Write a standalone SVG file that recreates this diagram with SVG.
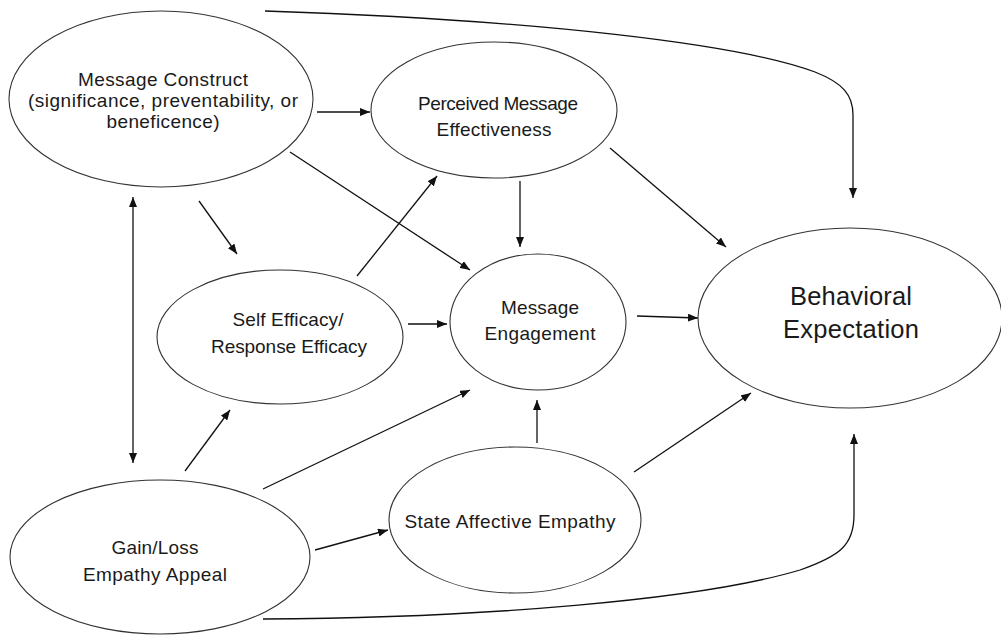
<svg xmlns="http://www.w3.org/2000/svg" width="1001" height="635" viewBox="0 0 1001 635">
  <style>
    .node ellipse { fill: #ffffff; stroke: #333333; stroke-width: 1.1; }
    .node text { font-family: "Liberation Sans", Arial, sans-serif; font-size: 19px; fill: #1a1a1a; text-anchor: middle; }
    #behavioral-expectation text { font-size: 25.5px; }
    .edges path { fill: none; stroke: #111111; stroke-width: 1.3; marker-end: url(#arrow); }
    .edges path.both { marker-start: url(#arrow); }
  </style>
  <defs>
    <marker id="arrow" markerUnits="userSpaceOnUse" markerWidth="10" markerHeight="8" refX="10" refY="4" orient="auto-start-reverse">
      <path d="M0,0 L10,4 L0,8 z" fill="#111111"/>
    </marker>
  </defs>

  <!-- connectors -->
  <g id="connectors" class="edges">
    <path d="M265,11 C540,20 740,44 815,72 C843,83 853,95 853,115 L853,198"/>
    <path d="M317,112 L370,112"/>
    <path d="M290,152 L470,270"/>
    <path d="M199,201 L237,254"/>
    <path class="both" d="M133,197 L133,463"/>
    <path d="M357,276 L437,176"/>
    <path d="M520,181 L520,247"/>
    <path d="M610,148 L726,247"/>
    <path d="M408,324 L447,324"/>
    <path d="M637,316 L698,318"/>
    <path d="M185,471 L230,410"/>
    <path d="M263,489 L470,390"/>
    <path d="M315,550 L388,530"/>
    <path d="M537,443 L537,400"/>
    <path d="M634,472 L751,393"/>
    <path d="M263,619 C480,618 700,600 800,570 C840,556 854,545 854,515 L854,434"/>
  </g>

  <!-- nodes -->
  <g id="message-construct" class="node">
    <ellipse cx="161" cy="99" rx="152" ry="88"/>
    <text x="163" y="86" textLength="170">Message Construct</text>
    <text x="163" y="107" textLength="270">(significance, preventability, or</text>
    <text x="163" y="128" textLength="113">beneficence)</text>
  </g>
  <g id="perceived-message-effectiveness" class="node">
    <ellipse cx="494" cy="110" rx="123" ry="68"/>
    <text x="498" y="110" textLength="160">Perceived Message</text>
    <text x="494" y="136" textLength="115">Effectiveness</text>
  </g>
  <g id="self-efficacy" class="node">
    <ellipse cx="280" cy="337" rx="123" ry="67"/>
    <text x="288" y="326" textLength="111">Self Efficacy/</text>
    <text x="289" y="353" textLength="156">Response Efficacy</text>
  </g>
  <g id="message-engagement" class="node">
    <ellipse cx="538" cy="322" rx="88" ry="68"/>
    <text x="540" y="314" textLength="78">Message</text>
    <text x="540" y="340" textLength="111">Engagement</text>
  </g>
  <g id="behavioral-expectation" class="node">
    <ellipse cx="850" cy="318" rx="152" ry="90"/>
    <text x="851" y="305" textLength="122">Behavioral</text>
    <text x="851" y="338" textLength="136">Expectation</text>
  </g>
  <g id="state-affective-empathy" class="node">
    <ellipse cx="515" cy="520" rx="126" ry="73"/>
    <text x="510" y="528" textLength="211">State Affective Empathy</text>
  </g>
  <g id="gain-loss-appeal" class="node">
    <ellipse cx="160" cy="557" rx="150" ry="77"/>
    <text x="155" y="554" textLength="87">Gain/Loss</text>
    <text x="155" y="581" textLength="144">Empathy Appeal</text>
  </g>
</svg>
